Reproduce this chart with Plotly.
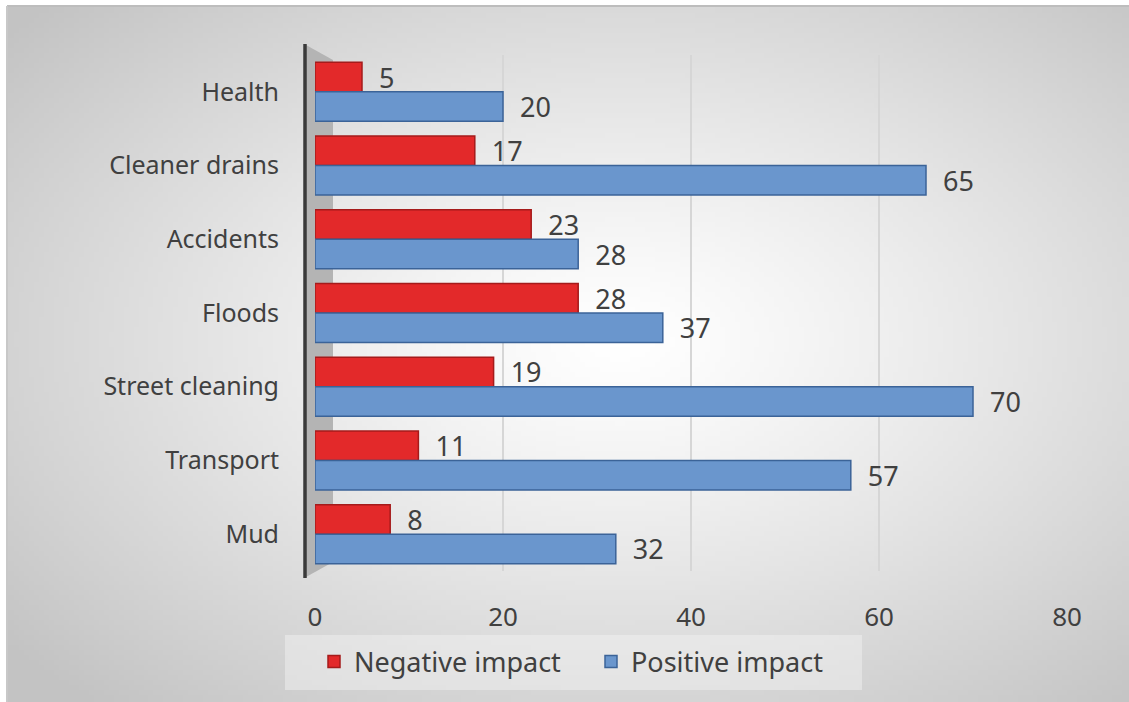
import plotly.graph_objects as go
import zlib, struct, base64, math

categories = ["Health", "Cleaner drains", "Accidents", "Floods", "Street cleaning", "Transport", "Mud"]
negative_impact = [5, 17, 23, 28, 19, 11, 8]
positive_impact = [20, 65, 28, 37, 70, 57, 32]
x_ticks = [0, 20, 40, 60, 80]

W, H = 1129, 702
L, R = 315, 1067      # plot area pixel edges
T, B = 55, 571

def px(x):
    return (x - L) / (R - L)

def py(y):
    return (B - y) / (B - T)

# --- radial gradient background as PNG ---
def make_png(w, h):
    cx, cy = 620, 340
    rows = []
    for j in range(h):
        y = 6 + (j + 0.5) * (H - 6) / h
        row = bytearray([0])
        for i in range(w):
            x = 7 + (i + 0.5) * (W - 7) / w
            t = math.sqrt(((x - cx) / 560) ** 2 + ((y - cy) / 345) ** 2) / math.sqrt(2)
            t = min(1.0, t)
            v = int(round(255 - 60 * t ** 1.2))
            row += bytes([v, v, v])
        rows.append(bytes(row))
    raw = b"".join(rows)

    def chunk(tag, data):
        c = struct.pack(">I", len(data)) + tag + data
        return c + struct.pack(">I", zlib.crc32(tag + data) & 0xffffffff)

    png = b"\x89PNG\r\n\x1a\n"
    png += chunk(b"IHDR", struct.pack(">IIBBBBB", w, h, 8, 2, 0, 0, 0))
    png += chunk(b"IDAT", zlib.compress(raw, 9))
    png += chunk(b"IEND", b"")
    return "data:image/png;base64," + base64.b64encode(png).decode()

bg = make_png(226, 140)

font = "Noto Sans"
txt = "#404040"
pad = "\u00a0\u00a0"

fig = go.Figure()
fig.add_trace(go.Bar(
    y=categories, x=negative_impact, orientation="h", name="Negative impact",
    marker=dict(color="#e3292a", line=dict(color="#a51b1b", width=1.5)),
    text=[pad + str(v) for v in negative_impact], textposition="outside",
    constraintext="none",
    textfont=dict(size=27, color=txt, family=font), cliponaxis=False,
))
fig.add_trace(go.Bar(
    y=categories, x=positive_impact, orientation="h", name="Positive impact",
    marker=dict(color="#6a96cd", line=dict(color="#3b6398", width=1.5)),
    text=[pad + str(v) for v in positive_impact], textposition="outside",
    constraintext="none",
    textfont=dict(size=27, color=txt, family=font), cliponaxis=False,
))

shapes = [
    # frame lines
    dict(type="line", xref="paper", yref="paper", x0=px(7), x1=px(W), y0=py(6), y1=py(6),
         line=dict(color="#bdbdbd", width=2), layer="below"),
    dict(type="line", xref="paper", yref="paper", x0=px(7), x1=px(7), y0=py(6), y1=py(H),
         line=dict(color="#c8c8c8", width=2), layer="below"),
    # side wall
    dict(type="path", xref="paper", yref="paper", layer="below",
         path=f"M {px(306)},{py(45)} L {px(333)},{py(60)} L {px(333)},{py(562)} L {px(306)},{py(577)} Z",
         fillcolor="#b4b4b4", line=dict(width=0)),
    dict(type="line", xref="paper", yref="paper", x0=px(305), x1=px(305), y0=py(44), y1=py(578),
         line=dict(color="#3a3a3a", width=3.5)),
    # legend backdrop
    dict(type="rect", xref="paper", yref="paper", layer="below",
         x0=px(285), x1=px(862), y0=py(690), y1=py(635),
         fillcolor="rgba(245,245,245,0.45)", line=dict(width=0)),
]

fig.update_layout(
    width=W, height=H,
    margin=dict(l=L, r=W - R, t=T, b=H - B),
    paper_bgcolor="white", plot_bgcolor="rgba(0,0,0,0)",
    barmode="group", bargap=0.2, bargroupgap=0,
    font=dict(family=font, color=txt),
    showlegend=True,
    legend=dict(orientation="h", x=px(314), xanchor="left", y=py(662), yanchor="middle",
                font=dict(size=27, color=txt, family=font), bgcolor="rgba(0,0,0,0)",
                entrywidth=232, itemclick=False),
    images=[dict(source=bg, xref="paper", yref="paper", x=px(7), y=py(6),
                 sizex=(W - 7) / (R - L), sizey=(H - 6) / (B - T),
                 xanchor="left", yanchor="top", sizing="stretch", layer="below")],
    shapes=shapes,
    xaxis=dict(range=[0, 80], tickvals=x_ticks, showgrid=True, gridcolor="#d6d6d6",
               gridwidth=1.5, zeroline=False, showline=False, ticks="",
               tickfont=dict(size=26, color=txt, family=font), ticklabelstandoff=28),
    yaxis=dict(autorange="reversed", categoryorder="array", categoryarray=categories,
               showgrid=False, zeroline=False, showline=False, ticks="",
               tickfont=dict(size=25, color=txt, family=font), ticklabelstandoff=35),
)

fig.write_html("out.html", config={"displayModeBar": False},
               post_script="document.body.style.margin='0';document.body.style.overflow='hidden';")
